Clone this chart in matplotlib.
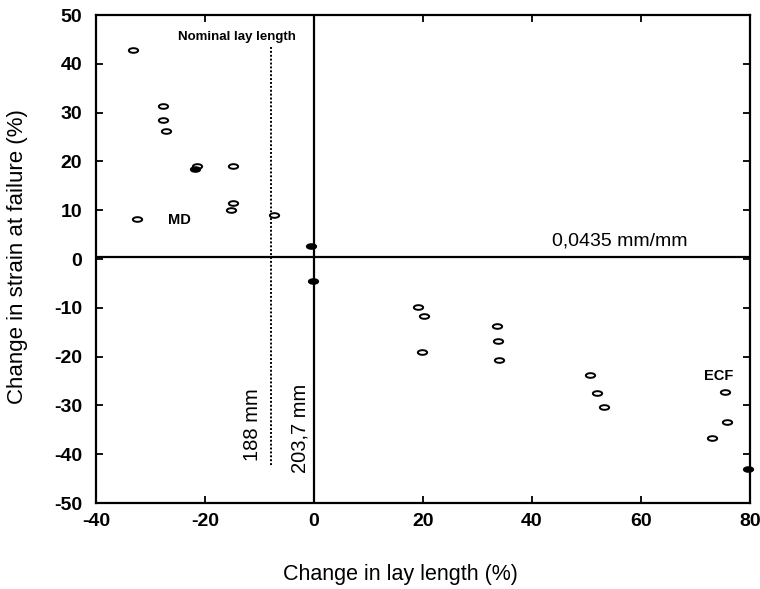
import numpy as np
import matplotlib
matplotlib.use("Agg")
import matplotlib.pyplot as plt
from matplotlib.path import Path
from matplotlib.transforms import Affine2D

plt.rcParams['font.family'] = ['Liberation Sans', 'DejaVu Sans']
plt.rcParams['axes.unicode_minus'] = False

# Open points: change in lay length (%), change in strain at failure (%)
open_x = [-33.3, -27.7, -27.7, -27.2, -21.4, -14.9, -14.9, -15.3, -32.5, -7.3,
          19.1, 20.1, 19.9, 33.5, 33.7, 33.9, 50.6, 51.9, 53.3, 75.4, 75.8, 73.0]
open_y = [42.9, 31.4, 28.5, 26.3, 19.0, 19.1, 11.5, 10.0, 8.3, 9.0,
          -9.8, -11.7, -19.1, -13.7, -16.7, -20.7, -23.8, -27.5, -30.3, -27.3, -33.3, -36.7]
# Filled / overlapping points
filled_x = [-21.8, -0.5, -0.1, 79.6]
filled_y = [18.4, 2.7, -4.6, -43.0]

nominal_x = -7.9          # dotted line: nominal lay length (188 mm)
ref_y = 0.5               # horizontal reference 0,0435 mm/mm

xticks = [-40, -20, 0, 20, 40, 60, 80]
yticks = [-50, -40, -30, -20, -10, 0, 10, 20, 30, 40, 50]

ellipse = Path.unit_circle().transformed(Affine2D().scale(1.0, 0.5))

fig = plt.figure(figsize=(7.6, 5.89), dpi=100)
ax = fig.add_axes([0.1263, 0.146, 0.8605, 0.8285])

ax.axvline(0, color='black', lw=1.6, zorder=1)
ax.axhline(ref_y, color='black', lw=1.6, zorder=1)
ax.plot([nominal_x, nominal_x], [43.5, -42.5], color='black', lw=1.4, ls=(0, (1, 1)), zorder=1)

ax.scatter(open_x, open_y, marker=ellipse, s=45, facecolors='white', edgecolors='black',
           linewidths=1.4, zorder=3)
ax.scatter(filled_x, filled_y, marker=ellipse, s=45, facecolors='black', edgecolors='black',
           linewidths=1.4, zorder=3, clip_on=False)

ax.text(-26.8, 8.0, 'MD', fontsize=10.5, fontweight='bold', ha='left', va='center')
ax.text(74.3, -24.0, 'ECF', fontsize=10.5, fontweight='bold', ha='center', va='center')
ax.text(-14.2, 45.5, 'Nominal lay length', fontsize=9.5, fontweight='bold', ha='center', va='center')
ax.text(56.1, 3.7, '0,0435 mm/mm', fontsize=14, ha='center', va='center')
ax.text(-11.3, -33.9, '188 mm', fontsize=14.5, rotation=90, ha='center', va='center')
ax.text(-2.6, -34.8, '203,7 mm', fontsize=14.5, rotation=90, ha='center', va='center')

ax.set_xlim(-40, 80)
ax.set_ylim(-50, 50)
ax.set_xticks(xticks)
ax.set_yticks(yticks)
ax.tick_params(direction='in', top=True, right=True, length=5, width=1.3,
               labelsize=14)
ax.tick_params(axis='x', pad=7)
ax.tick_params(axis='y', pad=10)
for lab in ax.get_xticklabels() + ax.get_yticklabels():
    lab.set_fontweight('bold')
for sp in ax.spines.values():
    sp.set_linewidth(1.6)

ax.set_xlabel('Change in lay length (%)', fontsize=15.5)
ax.set_ylabel('Change in strain at failure (%)', fontsize=16)
ax.xaxis.set_label_coords(0.465, -0.125)
ax.yaxis.set_label_coords(-0.104, 0.504)

fig.savefig('out.png', dpi=100)
